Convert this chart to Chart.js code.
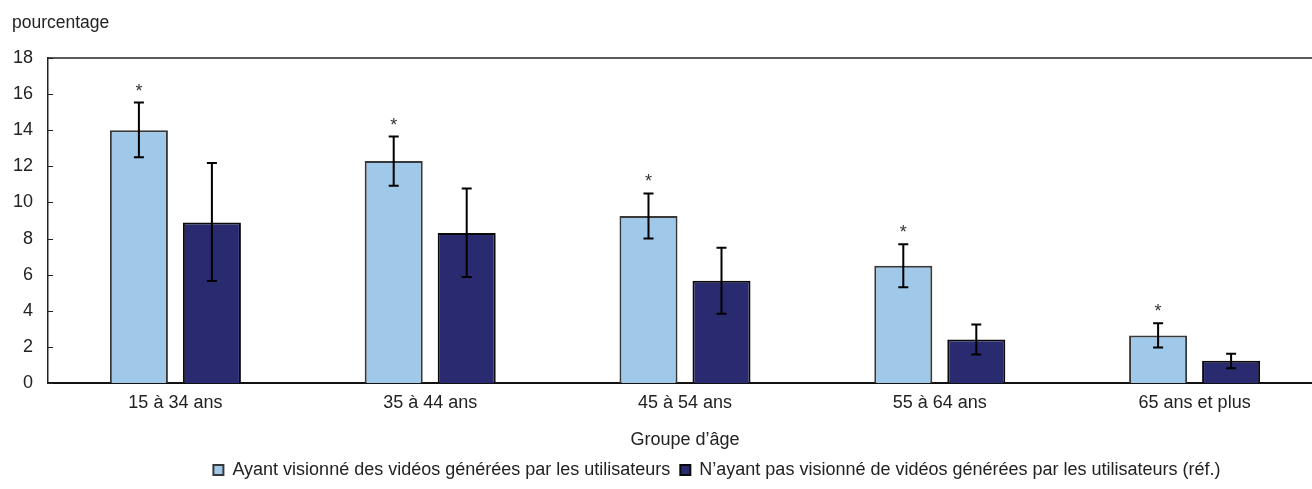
<!DOCTYPE html>
<html lang="fr">
<head>
<meta charset="utf-8">
<title>Groupe d'âge</title>
<script src="https://cdn.jsdelivr.net/npm/chart.js@4.4.1/dist/chart.umd.min.js"></script>
<style>
  html, body { margin: 0; padding: 0; background: #fff; overflow: hidden; }
  #wrap { width: 1312px; height: 489px; overflow: hidden; position: relative; }
  canvas { display: block; }
</style>
</head>
<body>
<div id="wrap">
  <canvas id="ageChart" width="1332" height="489"></canvas>
</div>
<script>
const categories = ["15 à 34 ans", "35 à 44 ans", "45 à 54 ans", "55 à 64 ans", "65 ans et plus"];

const seriesLabels = [
  "Ayant visionné des vidéos générées par les utilisateurs",
  "N’ayant pas visionné de vidéos générées par les utilisateurs (réf.)",
];

const viewedValues = [14.0, 12.3, 9.25, 6.5, 2.63];
const viewedLow = [12.5, 10.92, 8.0, 5.3, 1.96];
const viewedHigh = [15.53, 13.65, 10.5, 7.68, 3.31];

const notViewedValues = [8.89, 8.31, 5.67, 2.41, 1.23];
const notViewedLow = [5.65, 5.87, 3.83, 1.58, 0.82];
const notViewedHigh = [12.18, 10.77, 7.49, 3.24, 1.62];

// significance marks (*) on the first series
const significant = [true, true, true, true, true];

const FONT = "'Liberation Sans', Arial, sans-serif";
const TEXT = "#222222";

const errorBars = [
  { low: viewedLow, high: viewedHigh },
  { low: notViewedLow, high: notViewedHigh },
];

const extrasPlugin = {
  id: "extras",
  afterLayout(chart) {
    // the source legend sits a bit right of the cropped canvas centre
    const lg = chart.legend;
    lg.left += 56;
    lg.right += 56;
  },
  afterDatasetsDraw(chart) {
    const ctx = chart.ctx;
    const yScale = chart.scales.y;
    const area = chart.chartArea;

    ctx.save();

    // error bars
    ctx.strokeStyle = "#000";
    ctx.lineWidth = 2;
    errorBars.forEach((err, di) => {
      const meta = chart.getDatasetMeta(di);
      meta.data.forEach((bar, i) => {
        const yLow = yScale.getPixelForValue(err.low[i]);
        const yHigh = yScale.getPixelForValue(err.high[i]);
        ctx.beginPath();
        ctx.moveTo(bar.x, yLow);
        ctx.lineTo(bar.x, yHigh);
        ctx.moveTo(bar.x - 5, yLow);
        ctx.lineTo(bar.x + 5, yLow);
        ctx.moveTo(bar.x - 5, yHigh);
        ctx.lineTo(bar.x + 5, yHigh);
        ctx.stroke();
      });
    });

    // asterisks
    ctx.fillStyle = "#333";
    ctx.font = "18px " + FONT;
    ctx.textAlign = "center";
    ctx.textBaseline = "middle";
    chart.getDatasetMeta(0).data.forEach((bar, i) => {
      if (!significant[i]) return;
      const yHigh = yScale.getPixelForValue(viewedHigh[i]);
      ctx.fillText("*", bar.x, yHigh - 11);
    });

    // frame top line and inner y ticks
    ctx.strokeStyle = TEXT;
    ctx.lineWidth = 1.5;
    ctx.beginPath();
    ctx.moveTo(area.left, area.top);
    ctx.lineTo(area.right, area.top);
    ctx.stroke();

    ctx.lineWidth = 1;
    yScale.ticks.forEach((t) => {
      const py = Math.round(yScale.getPixelForValue(t.value)) + 0.5;
      ctx.beginPath();
      ctx.moveTo(area.left, py);
      ctx.lineTo(area.left + 5, py);
      ctx.stroke();
    });

    // y unit label
    ctx.fillStyle = TEXT;
    ctx.font = "17.5px " + FONT;
    ctx.textAlign = "left";
    ctx.textBaseline = "alphabetic";
    ctx.fillText("pourcentage", 12, 28);

    ctx.restore();
  },
};

new Chart(document.getElementById("ageChart"), {
  type: "bar",
  data: {
    labels: categories,
    datasets: [
      {
        label: seriesLabels[0],
        data: viewedValues,
        backgroundColor: "#9fc8e9",
        borderColor: "#383838",
        borderWidth: 2,
        categoryPercentage: 0.573,
        barPercentage: 0.795,
      },
      {
        label: seriesLabels[1],
        data: notViewedValues,
        backgroundColor: "#2a2a70",
        borderColor: "#0a0a0a",
        borderWidth: 2,
        categoryPercentage: 0.573,
        barPercentage: 0.795,
      },
    ],
  },
  options: {
    responsive: false,
    animation: false,
    devicePixelRatio: 1,
    layout: { padding: { top: 58, right: 10, left: 0, bottom: 0 } },
    plugins: {
      tooltip: { enabled: false },
      legend: {
        position: "bottom",
        labels: {
          boxWidth: 10,
          boxHeight: 10,
          padding: 10,
          color: TEXT,
          font: { family: FONT, size: 18 },
        },
      },
    },
    scales: {
      x: {
        grid: { display: false, drawTicks: false },
        border: { display: true, color: "#111", width: 2 },
        ticks: { color: TEXT, padding: 9, font: { family: FONT, size: 18 } },
        title: {
          display: true,
          text: "Groupe d’âge",
          color: TEXT,
          padding: { top: 0, bottom: 0 },
          font: { family: FONT, size: 18 },
        },
        afterFit(scale) {
          scale.height = 68;
        },
      },
      y: {
        min: 0,
        max: 18,
        grid: { display: false, drawTicks: false },
        border: { display: true, color: TEXT, width: 1.5 },
        ticks: { stepSize: 2, color: TEXT, padding: 15, font: { family: FONT, size: 18 } },
        afterFit(scale) {
          scale.width = 48;
        },
      },
    },
  },
  plugins: [extrasPlugin],
});
</script>
</body>
</html>
